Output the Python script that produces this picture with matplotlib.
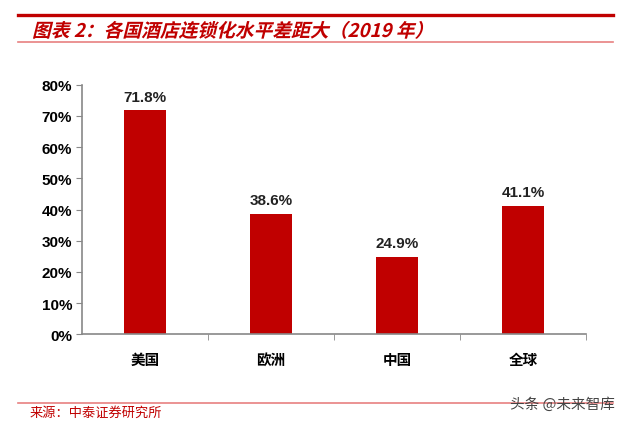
import matplotlib.pyplot as plt
from matplotlib.lines import Line2D
from matplotlib.textpath import TextPath
from matplotlib.patches import PathPatch
from matplotlib.font_manager import FontProperties
from matplotlib.transforms import Affine2D

plt.rcParams['font.family'] = ['Liberation Sans', 'Noto Sans CJK SC', 'DejaVu Sans']

categories = ['美国', '欧洲', '中国', '全球']
values = [71.8, 38.6, 24.9, 41.1]
yticks = [0, 10, 20, 30, 40, 50, 60, 70, 80]

red = '#C00000'
W, H = 640, 427

fig = plt.figure(figsize=(6.4, 4.27), dpi=100)
ax = fig.add_axes([0.128, 0.215, 0.788, 0.584])

x = range(len(categories))
ax.bar(x, values, width=0.33, color=red)
for xi, v in zip(x, values):
    ax.text(xi, v + 2.2, f'{v:.1f}%', ha='center', va='bottom',
            fontsize=11, fontweight='bold', color='#222222')

ax.set_xlim(-0.5, 3.5)
ax.set_ylim(0, 80)
ax.set_yticks(yticks)
ax.set_yticklabels([f'{t}%' for t in yticks], fontsize=11, fontweight='bold')
ax.set_xticks(list(x))
ax.set_xticklabels(categories, fontsize=10.5, fontweight='bold',
                   family=['Noto Sans CJK SC'])
ax.set_xticks([0.5, 1.5, 2.5, 3.5], minor=True)
ax.tick_params(axis='x', which='major', length=0, pad=12)
ax.tick_params(axis='x', which='minor', length=4, color='#888888')
ax.tick_params(axis='y', length=4, color='#888888', pad=3)
for s in ['top', 'right']:
    ax.spines[s].set_visible(False)
for s in ['left', 'bottom']:
    ax.spines[s].set_color('#888888')
    ax.spines[s].set_linewidth(1.2)

# header and footer lines
fig.add_artist(Line2D([18/W, 613/W], [1 - 16/H] * 2, color=red, lw=2.4))
fig.add_artist(Line2D([18/W, 613/W], [1 - 43/H] * 2, color='#E88080', lw=1.2))
fig.add_artist(Line2D([18/W, 613/W], [1 - 404/H] * 2, color='#E88080', lw=1.2))

# italic title (skewed glyph outlines, CJK fonts have no italic)
title = '图表 2：各国酒店连锁化水平差距大（2019 年）'
tp = TextPath((0, 0), title, size=13.5,
              prop=FontProperties(family=['Noto Sans CJK SC'], weight='bold'))
tr = (Affine2D().skew_deg(14, 0).scale(1 / 72)
      .translate(32 / 100, (H - 38) / 100) + fig.dpi_scale_trans)
fig.add_artist(PathPatch(tp, transform=tr, color=red, lw=0))

fig.text(30/W, 1 - 413/H, '来源：中泰证券研究所', fontsize=9.5, color=red,
         va='center', ha='left', family=['Noto Sans CJK SC'])
fig.text(615/W, 1 - 405/H, '头条 @未来智库', fontsize=10.5, color='#444444',
         va='center', ha='right', family=['Noto Sans CJK SC'])

fig.savefig('out.png', dpi=100)
